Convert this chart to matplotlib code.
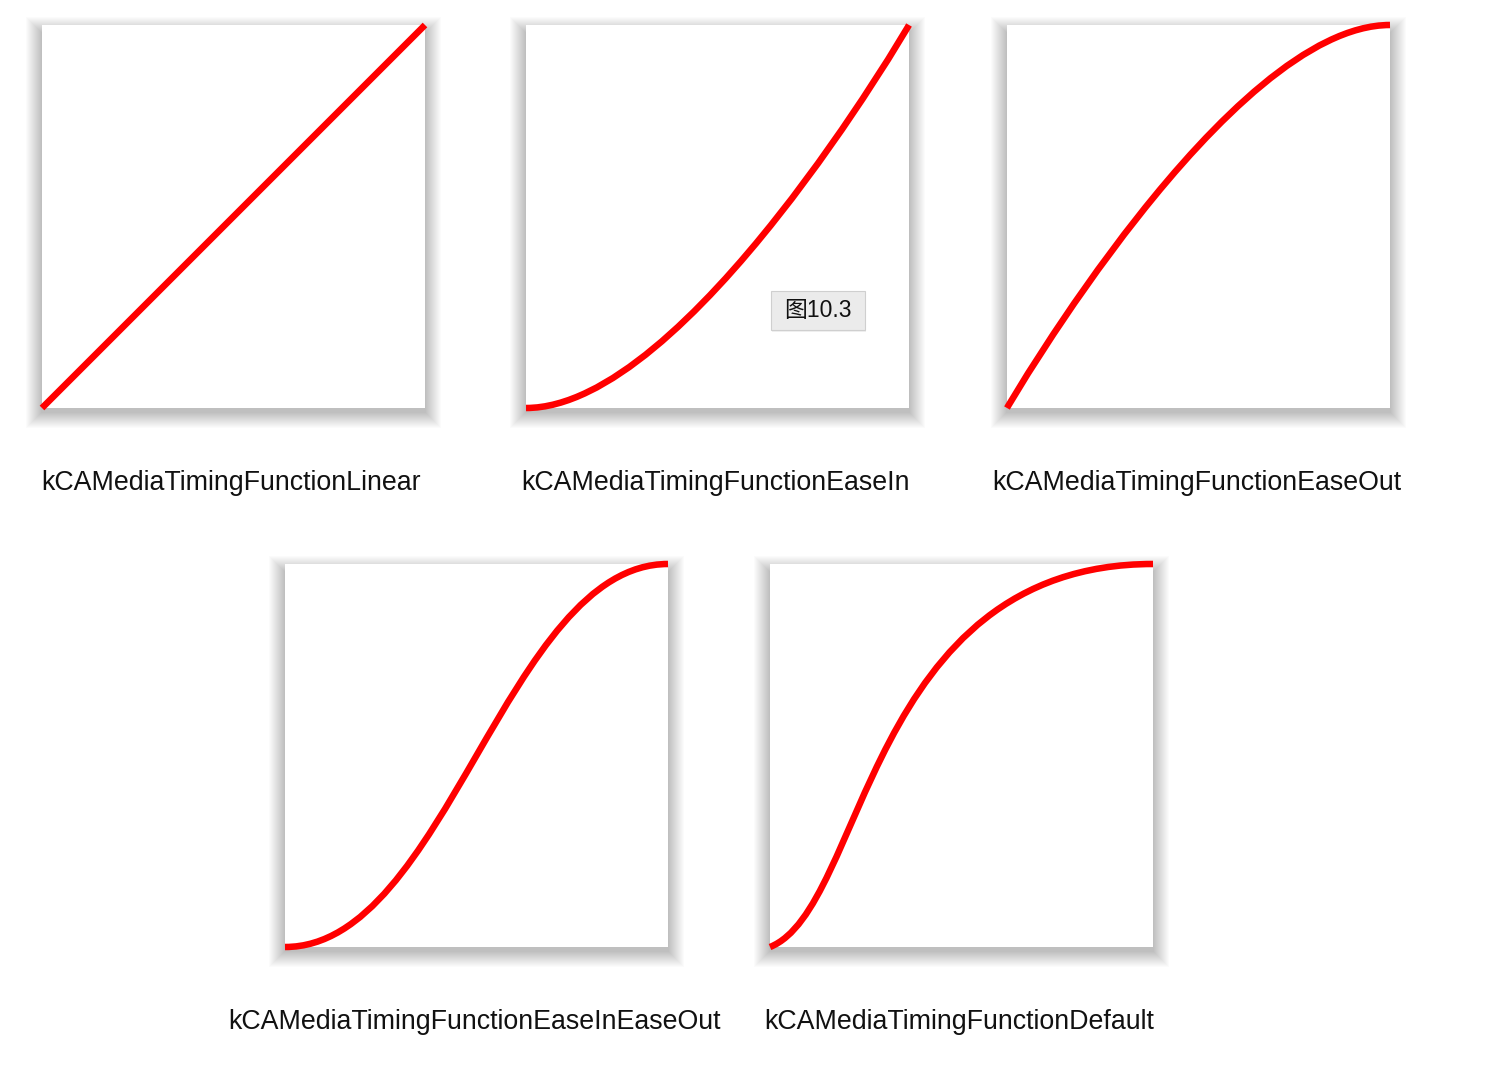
# timing function curves, five panels with soft shadows
import matplotlib.pyplot as plt
from matplotlib.path import Path
from matplotlib.patches import PathPatch, Rectangle, FancyBboxPatch

W, H = 1486, 1078

# data: cubic bezier control points (c1x, c1y, c2x, c2y) for each timing function
names = [
    "kCAMediaTimingFunctionLinear",
    "kCAMediaTimingFunctionEaseIn",
    "kCAMediaTimingFunctionEaseOut",
    "kCAMediaTimingFunctionEaseInEaseOut",
    "kCAMediaTimingFunctionDefault",
]
c1 = [(0.0, 0.0), (0.42, 0.0), (0.0, 0.0), (0.42, 0.0), (0.25, 0.1)]
c2 = [(1.0, 1.0), (1.0, 1.0), (0.58, 1.0), (0.58, 1.0), (0.25, 1.0)]
tooltip = "图10.3"

# panel boxes in pixels (left, top, size)
boxes = [(42, 25), (526, 25), (1007, 25), (285, 564), (770, 564)]
size = 383


def fx(x):
    return x / W


def fy(y):
    return 1 - y / H


fig = plt.figure(figsize=(W / 100, H / 100), dpi=100)
fig.patch.set_facecolor("white")

for (left, top), name, a, b in zip(boxes, names, c1, c2):
    # soft drop shadow: stacked translucent rectangles
    for k in range(16, 0, -1):
        fig.patches.append(Rectangle(
            (fx(left - k), fy(top + size + k + 4)), fx(size + 2 * k), (size + 2 * k - 4) / H,
            transform=fig.transFigure, facecolor="black", edgecolor="none", alpha=0.017, zorder=0))
    ax = fig.add_axes([fx(left), fy(top + size), fx(size), size / H])
    ax.set_zorder(2)
    ax.set_xlim(0, 1)
    ax.set_ylim(0, 1)
    ax.set_facecolor("white")
    for s in ax.spines.values():
        s.set_visible(False)
    ax.set_xticks([])
    ax.set_yticks([])
    path = Path([(0, 0), a, b, (1, 1)], [Path.MOVETO, Path.CURVE4, Path.CURVE4, Path.CURVE4])
    ax.add_patch(PathPatch(path, fill=False, edgecolor="#ff0000", lw=4.7, capstyle="butt", clip_on=False))
    fig.text(fx(left + size / 2 - 2), fy(top + size + 75), name, ha="center", va="center",
             fontsize=19.3, family=["Liberation Sans", "Noto Sans CJK SC"], color="#111111")

# tooltip box over the ease-in panel
tx, ty, tw, th = 771, 291, 94, 39
fig.patches.append(FancyBboxPatch((fx(tx + 1), fy(ty + th + 2)), fx(tw), th / H, boxstyle="square,pad=0",
                                  transform=fig.transFigure, facecolor="black", edgecolor="none", alpha=0.06, zorder=5))
fig.patches.append(FancyBboxPatch((fx(tx), fy(ty + th)), fx(tw), th / H, boxstyle="square,pad=0",
                                  transform=fig.transFigure, facecolor="#ebebeb", edgecolor="#cfcfcf", lw=0.8, zorder=6))
fig.text(fx(tx + tw / 2), fy(ty + th / 2), tooltip, ha="center", va="center", fontsize=16.5,
         family=["Liberation Sans", "Noto Sans CJK SC"], color="#111111", zorder=7)

fig.savefig("out.png", dpi=100, facecolor="white")
